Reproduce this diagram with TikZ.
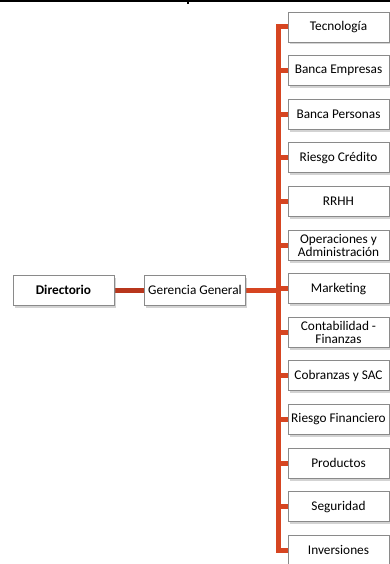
\documentclass[tikz,border=0pt]{standalone}
\usepackage{fontspec}
\setmainfont{Carlito}
\usetikzlibrary{shadows}
\pgfdeclarelayer{background}
\pgfsetlayers{background,main}
\definecolor{busred}{HTML}{D64521}
\definecolor{darkred}{HTML}{B8361C}
\definecolor{boxgray}{HTML}{8A8A8A}
\begin{document}
\begin{tikzpicture}[x=1pt,y=-1pt,
  orgbox/.style={draw=boxgray, line width=0.9pt, fill=white, minimum width=101pt, minimum height=30pt,
    inner sep=1pt, align=center, font=\fontsize{13.3}{13}\selectfont,
    drop shadow={shadow xshift=1.5pt, shadow yshift=-2.5pt, opacity=0.35, fill=gray}},
  bus/.style={draw=busred, line width=5pt, line join=miter},
  topline/.style={draw=black, line width=2.6pt}]
\useasboundingbox (0,0) rectangle (390,564);
% top rule
\coordinate (tl) at (0,1);
\coordinate (tr) at (390,1);
\coordinate (tk1) at (188,0);
\coordinate (tk2) at (188,4);
\draw[topline] (tl) -- (tr);
\draw[black, line width=1.2pt] (tk1) -- (tk2);
% left boxes
\node[orgbox, font=\fontsize{13.3}{13}\selectfont\bfseries] (dir) at (63.5,290) {Directorio};
\node[orgbox] (gg) at (195,290) {Gerencia General};
% right boxes
\node[orgbox] (t0) at (338.5,27.0) {Tecnología};
\node[orgbox] (t1) at (338.5,70.6) {Banca Empresas};
\node[orgbox] (t2) at (338.5,114.2) {Banca Personas};
\node[orgbox] (t3) at (338.5,157.8) {Riesgo Crédito};
\node[orgbox] (t4) at (338.5,201.4) {RRHH};
\node[orgbox] (t5) at (338.5,245.0) {Operaciones y\\Administración};
\node[orgbox] (t6) at (338.5,288.6) {Marketing};
\node[orgbox] (t7) at (338.5,332.2) {Contabilidad -\\Finanzas};
\node[orgbox] (t8) at (338.5,375.8) {Cobranzas y SAC};
\node[orgbox] (t9) at (338.5,419.4) {Riesgo Financiero};
\node[orgbox] (t10) at (338.5,463.0) {Productos};
\node[orgbox] (t11) at (338.5,506.6) {Seguridad};
\node[orgbox] (t12) at (338.5,550.2) {Inversiones};
% connectors
\coordinate (bus) at (278,0);
\begin{pgfonlayer}{background}
\draw[draw=darkred, line width=5pt] (dir.east) -- (gg.east -| gg.west);
\draw[bus] (gg.east) -- (gg.east -| bus);
\draw[bus] (t0.west) -- (t0.west -| bus) -- (t12.west -| bus) -- (t12.west);
\foreach \i in {1,...,11} {
  \draw[bus] (t\i.west -| bus) -- (t\i.west);
}
\end{pgfonlayer}
\end{tikzpicture}
\end{document}
